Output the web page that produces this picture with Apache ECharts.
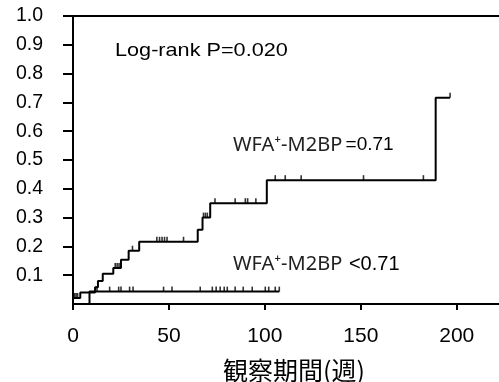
<!DOCTYPE html>
<html><head><meta charset="utf-8">
<script src="https://cdn.jsdelivr.net/npm/echarts@6/dist/echarts.min.js"></script>
<style>html,body{margin:0;padding:0;background:#fff}#c{width:499px;height:382px}</style>
</head><body><div id="c"></div>
<script>
// Tick labels
const xTicks = [0, 50, 100, 150, 200];
const yTicks = [0.1, 0.2, 0.3, 0.4, 0.5, 0.6, 0.7, 0.8, 0.9, 1.0];

// WFA+-M2BP >= 0.71 group (cumulative incidence step curve)
const highTimes = [0, 3.8, 11.5, 13, 15.5, 21, 25, 29, 34.5, 65, 67.5, 71.5, 101, 189, 196.5];
const highRisk  = [0.021, 0.04, 0.058, 0.08, 0.105, 0.125, 0.154, 0.185, 0.216, 0.258, 0.30, 0.35, 0.43, 0.716, 0.716];
const highCensor = [0.8, 1.6, 2.4, 22, 23, 24, 31, 43.7, 45.1, 46.4, 47.7, 49, 57.6, 68, 69, 70, 74, 84.5, 89.8, 91, 95.3, 105.4, 110.6, 118.9, 151.4, 182.6, 196.5];

// WFA+-M2BP < 0.71 group
const lowTimes = [0, 8.6, 107.5];
const lowRisk  = [0, 0.043, 0.043];
const lowCensor = [12.5, 19.1, 23.8, 25, 29.5, 31.3, 47.2, 51.6, 66.3, 72.6, 74.6, 76.7, 78.8, 80.4, 84.5, 88.7, 93.4, 100.2, 102, 105.4, 107.5];

function stepVal(times, vals, t) {
  let v = vals[0];
  for (let i = 0; i < times.length; i++) if (times[i] <= t) v = vals[i];
  return v;
}

const chart = echarts.init(document.getElementById('c'), null, {renderer: 'canvas'});
const black = '#000';
const censorStyle = {
  type: 'scatter', symbol: 'rect', symbolSize: [1.6, 5], symbolOffset: [0, -2.5],
  itemStyle: {color: black}, silent: true, z: 3
};
chart.setOption({
  animation: false,
  backgroundColor: '#fff',
  grid: {left: 73, right: 0, top: 16, bottom: 78, outerBoundsMode: 'none', containLabel: false},
  xAxis: [{
    type: 'value', min: 0, max: 222, interval: 50,
    axisLine: {show: true, onZero: false, lineStyle: {color: black, width: 2}},
    axisTick: {show: true, customValues: xTicks, length: 6, lineStyle: {color: black, width: 2}},
    axisLabel: {customValues: xTicks, margin: 22, fontSize: 21, fontFamily: 'Liberation Sans, Arial', color: black},
    splitLine: {show: false},
    name: '観察期間(週)', nameLocation: 'middle', nameGap: 54,
    nameTextStyle: {fontFamily: 'Noto Sans CJK JP', fontSize: 25, color: black, padding: [0, 0, 0, 16]}
  }, {
    type: 'value', position: 'top', min: 0, max: 222,
    axisLine: {show: true, onZero: false, lineStyle: {color: black, width: 2}},
    axisTick: {show: false}, axisLabel: {show: false}, splitLine: {show: false}
  }],
  yAxis: {
    type: 'value', min: 0, max: 1, interval: 0.1,
    axisLine: {show: true, onZero: false, lineStyle: {color: black, width: 2}},
    axisTick: {show: true, customValues: yTicks, length: 10, lineStyle: {color: black, width: 2}},
    axisLabel: {customValues: yTicks, formatter: v => v.toFixed(1), margin: 30, fontSize: 19.5,
      fontFamily: 'Liberation Sans, Arial', color: black, padding: [7, 0, 0, 0]},
    splitLine: {show: false}
  },
  series: [
    {type: 'line', step: 'end', symbol: 'none', data: highTimes.map((t, i) => [t, highRisk[i]]),
      lineStyle: {color: black, width: 2}, z: 2},
    {type: 'line', step: 'end', symbol: 'none', data: lowTimes.map((t, i) => [t, lowRisk[i]]),
      lineStyle: {color: black, width: 2}, z: 2},
    Object.assign({}, censorStyle, {data: highCensor.map(t => [t, stepVal(highTimes, highRisk, t)])}),
    Object.assign({}, censorStyle, {data: lowCensor.map(t => [t, stepVal(lowTimes, lowRisk, t)])})
  ],
  graphic: [
    {type: 'text', x: 115, y: 51, scaleX: 1.14, z: 10,
      style: {text: 'Log-rank P=0.020', fontSize: 19, fontFamily: 'Liberation Sans, Arial', fill: black, textVerticalAlign: 'middle'}},
    {type: 'text', x: 233, y: 145, z: 10,
      style: {text: '{a|WFA⁺-M2BP} {b|=0.71}', textVerticalAlign: 'middle',
        rich: {a: {fontSize: 20, fontFamily: 'Noto Sans', fill: '#222', color: '#222'},
               b: {fontSize: 19, fontFamily: 'Liberation Sans, Arial', fill: black, color: black}}}},
    {type: 'text', x: 233, y: 264, z: 10,
      style: {text: '{a|WFA⁺-M2BP}  {b|<0.71}', textVerticalAlign: 'middle',
        rich: {a: {fontSize: 20, fontFamily: 'Noto Sans', fill: '#222', color: '#222'},
               b: {fontSize: 20, fontFamily: 'Liberation Sans, Arial', fill: black, color: black}}}}
  ]
});
</script></body></html>
